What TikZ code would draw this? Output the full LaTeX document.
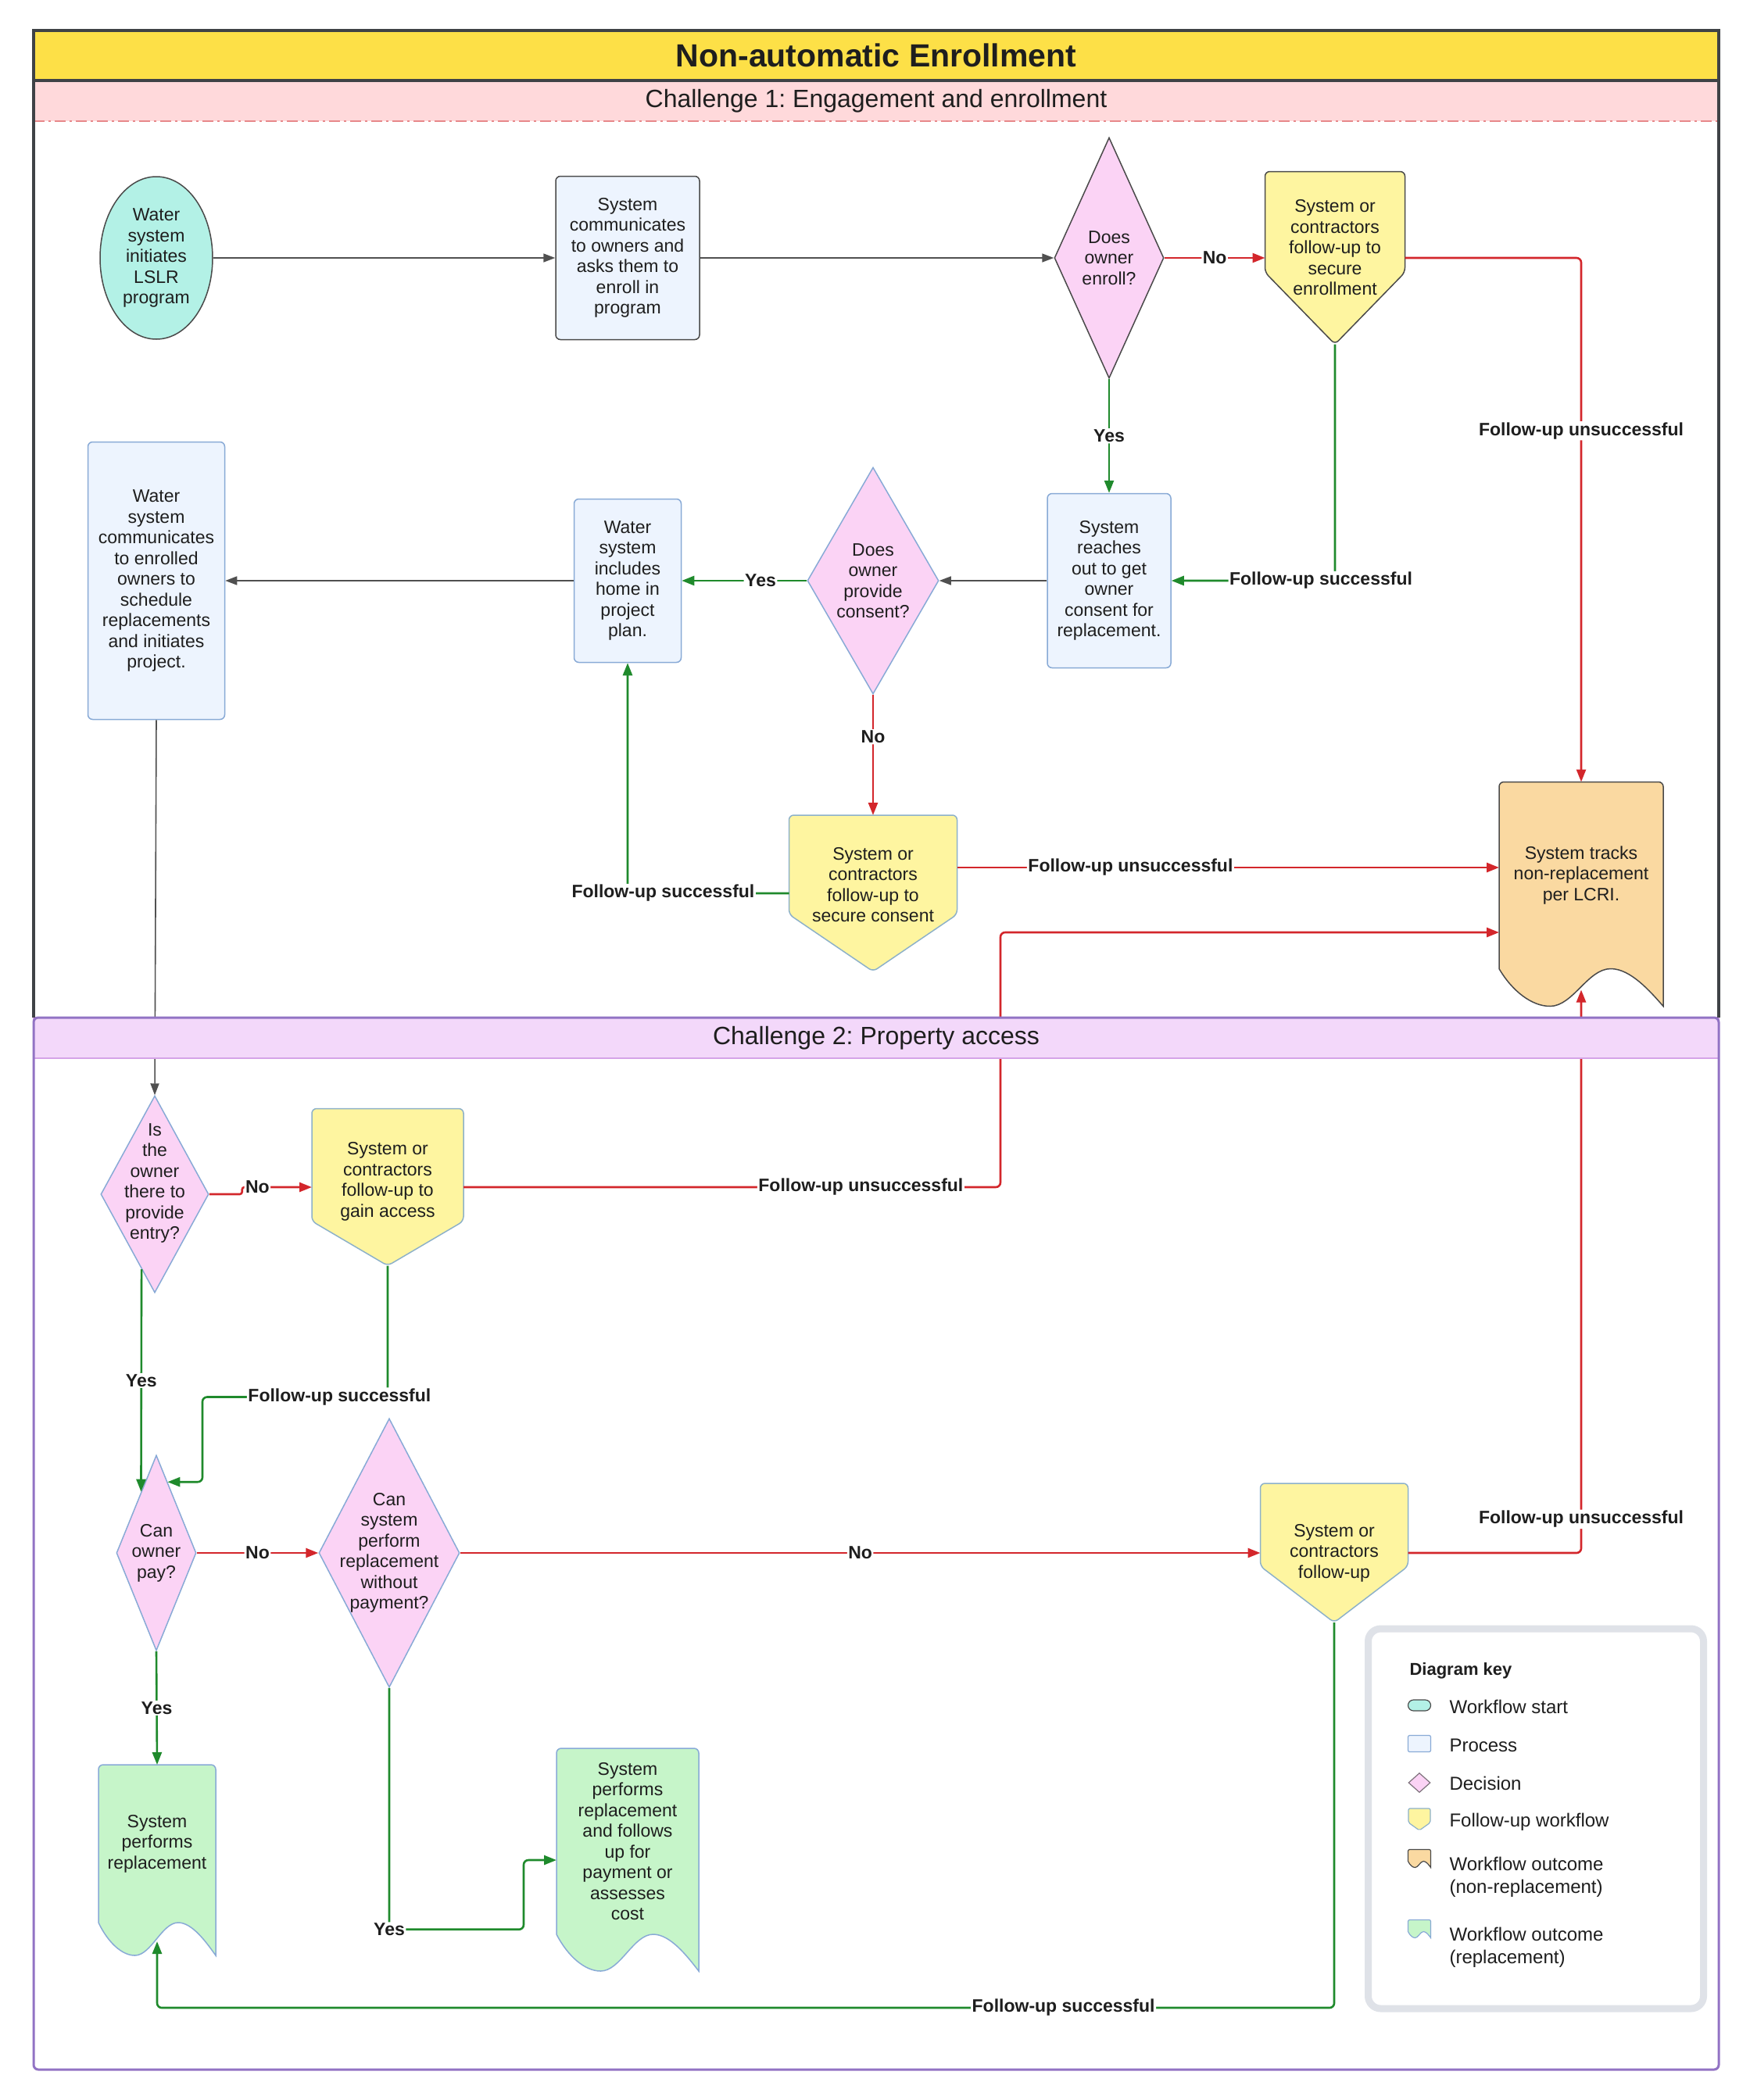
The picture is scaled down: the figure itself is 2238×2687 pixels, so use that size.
\documentclass[tikz,border=0pt]{standalone}
\usepackage{fontspec}
\setmainfont{Liberation Sans}
\usetikzlibrary{shapes.geometric,calc,backgrounds,arrows.meta}
\frenchspacing

\definecolor{titlefill}{HTML}{FDE047}
\definecolor{chonefill}{HTML}{FFD9DB}
\definecolor{chtwofill}{HTML}{F3D8FA}
\definecolor{chtwoedge}{HTML}{D5A3E8}
\definecolor{framedark}{HTML}{3F4246}
\definecolor{framepurple}{HTML}{9273C4}
\definecolor{startfill}{HTML}{B3F1E6}
\definecolor{procfill}{HTML}{EDF4FE}
\definecolor{procedge}{HTML}{88AAD6}
\definecolor{decfill}{HTML}{FBD3F5}
\definecolor{fufill}{HTML}{FEF5A0}
\definecolor{fuedge}{HTML}{8DB1C9}
\definecolor{norepfill}{HTML}{FAD9A1}
\definecolor{repfill}{HTML}{C6F5C9}
\definecolor{edgedark}{HTML}{4A4A4A}
\definecolor{linered}{HTML}{D3262B}
\definecolor{linegreen}{HTML}{1F8A2C}
\definecolor{linegray}{HTML}{505050}
\definecolor{keyedge}{HTML}{DFE2E8}
\definecolor{textdark}{HTML}{1E1E1E}

% follow-up shape: node, style, point height, corner radius
\newcommand{\fushape}[4]{%
  \begin{pgfonlayer}{background}
    \path[#2, rounded corners=#4] (#1.south) -- ($(#1.south west)+(0,-#3)$) -- (#1.north west)
      -- (#1.north east) -- ($(#1.south east)+(0,-#3)$) -- cycle;
  \end{pgfonlayer}}
% outcome (document) shape: node, style, wave depth, corner radius
\newcommand{\docshape}[4]{%
  \begin{pgfonlayer}{background}
    \path[#2] (#1.south west) -- ([yshift=-#4]#1.north west) arc[start angle=180, end angle=90, radius=#4]
      -- ([xshift=-#4]#1.north east) arc[start angle=90, end angle=0, radius=#4]
      -- ($(#1.south east)+(0,#3)$)
      .. controls ($(#1.south west)!0.92!(#1.south east)+(0,0.6*#3)$) and ($(#1.south west)!0.8!(#1.south east)$) .. ($(#1.south west)!0.68!(#1.south east)$)
      .. controls ($(#1.south west)!0.54!(#1.south east)$) and ($(#1.south west)!0.45!(#1.south east)+(0,#3)$) .. ($(#1.south west)!0.31!(#1.south east)+(0,#3)$)
      .. controls ($(#1.south west)!0.2!(#1.south east)+(0,#3)$) and ($(#1.south west)!0.08!(#1.south east)+(0,0.6*#3)$) .. (#1.south west) -- cycle;
  \end{pgfonlayer}}

\tikzset{
  startnode/.style={ellipse, draw=edgedark, fill=startfill, line width=1.5pt, inner sep=2pt},
  process/.style={rectangle, rounded corners=6pt, draw=procedge, fill=procfill, line width=1.5pt, inner sep=2pt},
  decision/.style={diamond, draw=procedge, fill=decfill, line width=1.5pt, inner sep=0pt},
  fubox/.style={rectangle, inner sep=0pt, outer sep=0pt},
  docbox/.style={rectangle, inner sep=0pt, outer sep=0pt},
  fuline/.style={draw=fuedge, fill=fufill, line width=1.5pt, line join=round},
  noline/.style={draw=edgedark, fill=norepfill, line width=1.5pt},
  repline/.style={draw=procedge, fill=repfill, line width=1.5pt},
  conn/.style={rounded corners=6pt, -{Triangle[length=16pt,width=12pt]}},
  grayflow/.style={conn, draw=linegray, line width=1.6pt, -{Triangle[length=15pt,width=11pt]}},
  redflow/.style={conn, draw=linered, line width=2.6pt},
  greenflow/.style={conn, draw=linegreen, line width=2.6pt},
  tag/.style={fill=white, font=\fontsize{23}{26}\selectfont\bfseries, inner sep=1.5pt},
  band/.style={minimum width=2156pt, minimum height=52pt, inner sep=0pt, font=\fontsize{32}{38}\selectfont},
  keytext/.style={anchor=west, align=left, font=\fontsize{24}{29}\selectfont}
}

\begin{document}
\begin{tikzpicture}[x=1pt, y=-1pt,
  every node/.style={font=\fontsize{23}{26.5}\selectfont, align=center, text=textdark}]
  \begin{pgfonlayer}{background}
    \fill[white] (0,0) rectangle (2238,2687);
  \end{pgfonlayer}
  \useasboundingbox (0,0) rectangle (2238,2687);

  % challenge 1
  \node[startnode, minimum width=144pt, minimum height=208pt] (s) at (200,330) {Water\\system\\initiates\\LSLR\\program};
  \node[process, draw=edgedark, minimum width=184pt, minimum height=209pt] (p1) at (803,330) {System\\communicates\\to owners and\\asks them to\\enroll in\\program};
  \node[decision, draw=edgedark, minimum width=140pt, minimum height=308pt, label=center:{Does\\owner\\enroll?}] (d1) at (1419,330) {};
  \node[fubox, minimum width=179pt, minimum height=221pt, label={[yshift=13pt]center:{System or\\contractors\\follow-up to\\secure\\enrollment}}] (f1) at (1708,330) {};
  \node[process, minimum width=158pt, minimum height=223pt] (p2) at (1419,743) {System\\reaches\\out to get\\owner\\consent for\\replacement.};
  \node[decision, minimum width=168pt, minimum height=290pt, label=center:{Does\\owner\\provide\\consent?}] (d2) at (1117,743) {};
  \node[process, minimum width=137pt, minimum height=209pt] (p3) at (803,743) {Water\\system\\includes\\home in\\project\\plan.};
  \node[process, minimum width=175pt, minimum height=355pt] (p4) at (200,743) {Water\\system\\communicates\\to enrolled\\owners to\\schedule\\replacements\\and initiates\\project.};
  \node[fubox, minimum width=215pt, minimum height=200pt, label={[yshift=11pt]center:{System or\\contractors\\follow-up to\\secure consent}}] (f2) at (1117,1143) {};
  \node[docbox, minimum width=210pt, minimum height=239pt] (st) at (2023,1120) {System tracks\\non-replacement\\per LCRI.};

  % challenge 2
  \node[decision, minimum width=138pt, minimum height=252pt, label={[yshift=14pt]center:{Is\\the\\owner\\there to\\provide\\entry?}}] (d3) at (198,1528) {};
  \node[fubox, minimum width=194pt, minimum height=201pt, label={[yshift=7pt]center:{System or\\contractors\\follow-up to\\gain access}}] (f3) at (496,1519) {};
  \node[decision, minimum width=102pt, minimum height=250pt, label=center:{Can\\owner\\pay?}] (d4) at (200,1987) {};
  \node[decision, minimum width=180pt, minimum height=344pt, label=center:{Can\\system\\perform\\replacement\\without\\payment?}] (d5) at (498,1987) {};
  \node[fubox, minimum width=189pt, minimum height=178pt] (f4) at (1707,1987) {System or\\contractors\\follow-up};
  \node[docbox, minimum width=150pt, minimum height=202pt] (o1) at (201,2359) {System\\performs\\replacement};
  \node[docbox, minimum width=182pt, minimum height=238pt] (o2) at (803,2356) {System\\performs\\replacement\\and follows\\up for\\payment or\\assesses\\cost};

  \fushape{f1}{fuline, draw=edgedark}{92}{6pt}
  \fushape{f2}{fuline}{73}{6pt}
  \fushape{f3}{fuline}{57}{6pt}
  \fushape{f4}{fuline}{72}{6pt}
  \docshape{st}{noline}{48}{6pt}
  \docshape{o1}{repline}{42}{6pt}
  \docshape{o2}{repline}{47}{6pt}

  \draw[grayflow] (s.east) -- (p1.west);
  \draw[grayflow] (p1.east) -- (d1.west);
  \draw[redflow] (d1.east) -- node[tag] (n1) {No} (f1.west);
  \draw[redflow] (f1.east) -| node[tag, pos=0.665] (n2) {Follow-up unsuccessful} (st.north);
  \draw[greenflow] (d1.south) -- node[tag] (n3) {Yes} (p2.north);
  \draw[greenflow] (f1.south) |- node[tag, pos=0.543] (n4) {Follow-up successful} (p2.east);
  \draw[grayflow] (p2.west) -- (d2.east);
  \draw[greenflow] (d2.west) -- node[tag, pos=0.37] (n5) {Yes} (p3.east);
  \draw[grayflow] (p3.west) -- (p4.east);
  \draw[redflow] (d2.south) -- node[tag, pos=0.35] (n6) {No} (f2.north);
  \draw[greenflow] (f2.west) -| node[tag, pos=0.39] (n7) {Follow-up successful} (p3.south);
  \draw[redflow] ([yshift=33pt]f2.east) -- node[tag, pos=0.32] (n8) {Follow-up unsuccessful} ([yshift=10pt]st.west);
  \draw[grayflow] (p4.south) -- (d3.north);
  \draw[redflow, rounded corners=3pt] (d3.east) -- ++(42,0) |- node[tag, pos=0.61] (n9) {No} (f3.west);
  \draw[redflow] (f3.east) -- node[tag, pos=0.74] (n10) {Follow-up unsuccessful} ++(687,0) |- ([yshift=-73pt]st.west);
  \draw[greenflow] (d3.260) -- node[tag] (n11) {Yes} (d4.104);
  \draw[greenflow] (f3.south) |- node[tag, pos=0.63] (n12) {Follow-up successful} ++(-237,168) |- (d4.81);
  \draw[redflow] (d4.east) -- node[tag] (n13) {No} (d5.west);
  \draw[redflow] (d5.east) -- node[tag] (n14) {No} (f4.west);
  \draw[redflow] (f4.east) -| node[tag, pos=0.53] (n15) {Follow-up unsuccessful} ([yshift=-27pt]st.south);
  \draw[greenflow] (d4.south) -- node[tag] (n16) {Yes} (o1.north);
  \draw[greenflow] (d5.south) |- node[tag] (n17) {Yes} ++(172,309) |- ([yshift=-24pt]o2.west);
  \draw[greenflow] (f4.south) -- ++(0,493) -| node[tag, pos=0.115] (n18) {Follow-up successful} ([yshift=-24pt]o1.south);

  % lanes
  \node[band, fill=chonefill] (ch1) at (1121,129) {Challenge 1: Engagement and enrollment};
  \draw[linered!55, line width=2pt, dash pattern=on 14pt off 5pt on 3pt off 5pt] (ch1.south west) -- (ch1.south east);
  \node[band, fill=chtwofill, draw=chtwoedge, line width=2.5pt] (ch2) at (1121,1328) {Challenge 2: Property access};
  \node[band, minimum height=64pt, fill=titlefill, draw=framedark, line width=4pt, font=\fontsize{41}{48}\selectfont\bfseries] (title) at (1121,71) {Non-automatic Enrollment};
  \draw[framedark, line width=4pt] (43,1302) -- (43,39) -- (2199,39) -- (2199,1302);
  \draw[framepurple, line width=3pt, rounded corners=6pt] (43,1302) rectangle (2199,2648);

  % key
  \node[draw=keyedge, line width=9pt, rounded corners=16pt, minimum width=429pt, minimum height=486pt] (key) at (1965,2327) {};
  \node[keytext, font=\fontsize{22}{26}\selectfont\bfseries] (keyt) at (1800,2138) {Diagram key};
  \node[startnode, rectangle, rounded corners=7pt, minimum width=29pt, minimum height=14pt, inner sep=0pt, line width=1.2pt] (kst) at (1816,2182) {};
  \node[keytext] (kt1) at (1851,2184) {Workflow start};
  \node[process, rounded corners=2pt, minimum width=29pt, minimum height=21pt, inner sep=0pt, line width=1.2pt] (kpr) at (1816,2231) {};
  \node[keytext] (kt2) at (1851,2233) {Process};
  \node[decision, draw=edgedark!70!decfill, minimum width=28pt, minimum height=25pt, line width=1.2pt] (kde) at (1816,2281) {};
  \node[keytext] (kt3) at (1851,2282) {Decision};
  \node[fubox, minimum width=28pt, minimum height=28pt] (kfu) at (1816,2328) {};
  \node[keytext] (kt4) at (1851,2331) {Follow-up workflow};
  \node[docbox, minimum width=29pt, minimum height=15pt] (kno) at (1816,2374) {};
  \node[keytext] (kt5) at (1851,2402) {Workflow outcome\\(non-replacement)};
  \node[docbox, minimum width=29pt, minimum height=15pt] (kre) at (1816,2464) {};
  \node[keytext] (kt6) at (1851,2492) {Workflow outcome\\(replacement)};
  \fushape{kfu}{fuline, line width=1.2pt}{10}{2pt}
  \docshape{kno}{noline, line width=1.2pt}{8}{2pt}
  \docshape{kre}{repline, line width=1.2pt}{8}{2pt}
\end{tikzpicture}
\end{document}
